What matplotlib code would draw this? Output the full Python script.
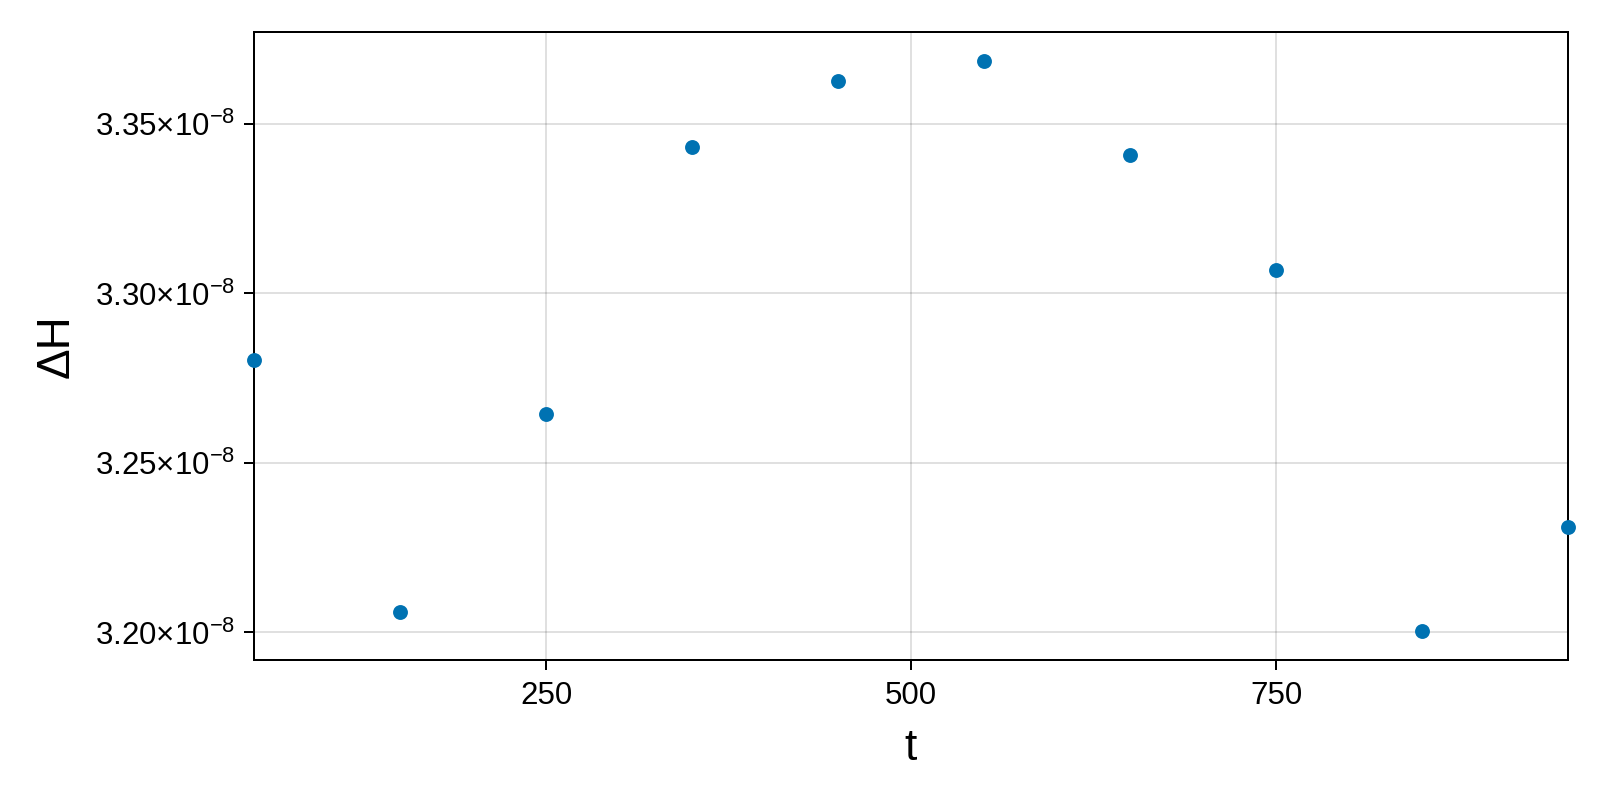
import matplotlib
matplotlib.use("Agg")
import matplotlib.pyplot as plt
from matplotlib.ticker import FixedLocator, FuncFormatter

plt.rcParams['font.family'] = ['Liberation Sans', 'DejaVu Sans']
plt.rcParams['mathtext.fontset'] = 'custom'
plt.rcParams['mathtext.rm'] = 'Liberation Sans'
plt.rcParams['mathtext.it'] = 'Liberation Sans:italic'

# data
t = [50, 150, 250, 350, 450, 550, 650, 750, 850, 950]
dH = [3.2804e-8, 3.2060e-8, 3.2645e-8, 3.3431e-8, 3.3627e-8,
      3.3687e-8, 3.3407e-8, 3.3069e-8, 3.2003e-8, 3.2310e-8]
xticks = [250, 500, 750]
yticks = [3.20e-8, 3.25e-8, 3.30e-8, 3.35e-8]

fig = plt.figure(figsize=(16, 8), dpi=100)
ax = fig.add_axes([254/1600, 1-660/800, (1568-254)/1600, (660-32)/800])

ax.scatter(t, dH, s=115, color='#0072B2', linewidths=0, zorder=3, clip_on=False)

ax.set_xlim(50, 950)
lo, hi = min(dH), max(dH)
pad = 0.05*(hi-lo)
ax.set_ylim(lo-pad, hi+pad)

ax.xaxis.set_major_locator(FixedLocator(xticks))
ax.yaxis.set_major_locator(FixedLocator(yticks))

def yfmt(v, pos):
    return r'$\mathregular{%.2f{\times}10^{-8}}$' % (v*1e8)
ax.yaxis.set_major_formatter(FuncFormatter(yfmt))

ax.grid(True, color='black', alpha=0.12, linewidth=1.44)
ax.set_axisbelow(True)
for sp in ax.spines.values():
    sp.set_linewidth(1.44)
ax.tick_params(direction='out', length=7.2, width=1.44, labelsize=22.5, pad=6)
ax.tick_params(axis='x', pad=8)

ax.set_xlabel('t', fontsize=32, labelpad=12)
ax.set_ylabel('ΔH', fontsize=33, labelpad=12)

fig.savefig('out.png', dpi=100)
